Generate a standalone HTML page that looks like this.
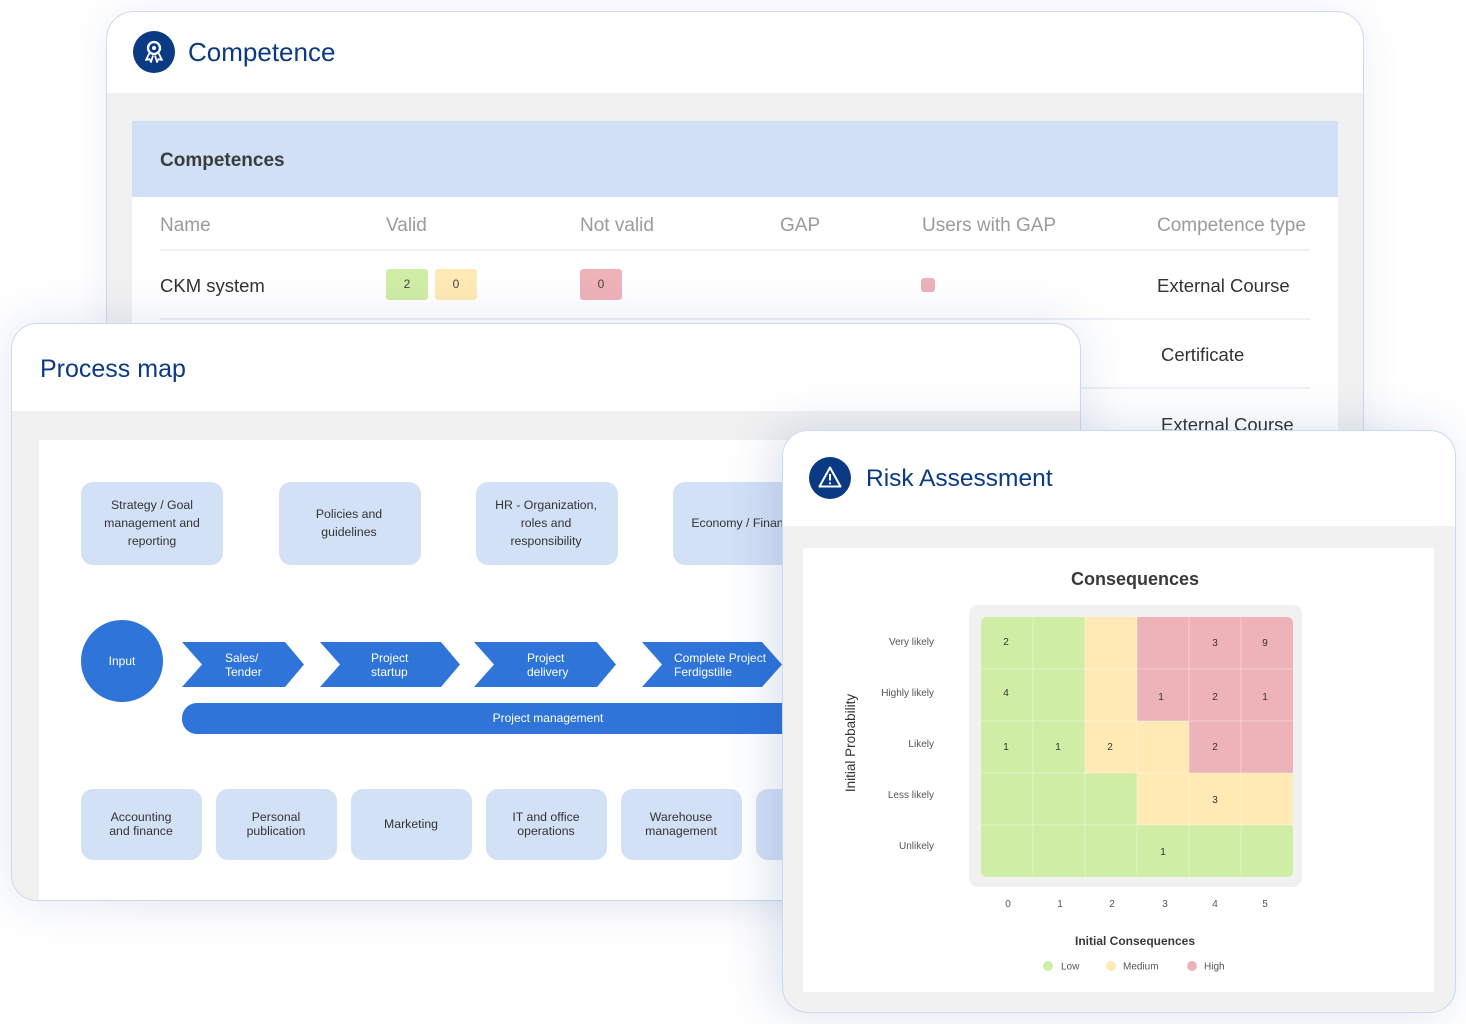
<!DOCTYPE html>
<html><head><meta charset="utf-8">
<style>
*{box-sizing:border-box}
body{margin:0;width:1466px;height:1024px;position:relative;overflow:hidden;background:#fff;font-family:"Liberation Sans",sans-serif}
.card{position:absolute;overflow:hidden;background:#f1f1f1}
.bord{position:absolute;border:1px solid #c9daf5;pointer-events:none}
.abs{position:absolute}
.t{position:absolute;white-space:nowrap}
.hd{color:#9b9b9b;font-size:19px;height:26px;line-height:26px}
.rw{color:#333;font-size:18.5px;height:26px;line-height:26px}
.badge{position:absolute;width:42px;height:31px;border-radius:3px;font-size:12px;color:#444;text-align:center;line-height:31px}
</style></head><body>

<!-- Competence card -->
<div class="card" style="left:106px;top:11px;width:1258px;height:880px;border-radius:28px;box-shadow:0 0 40px rgba(40,70,140,0.08)">
  <div class="abs" style="left:0;top:0;width:1258px;height:82px;background:#fff"></div>
  <svg class="abs" style="left:0;top:0" width="100" height="82" viewBox="106 11 100 82">
    <circle cx="154" cy="52" r="21" fill="#0b3a85"/>
    <circle cx="154" cy="48" r="6" fill="none" stroke="#fff" stroke-width="2.3"/>
    <circle cx="154" cy="48" r="2" fill="#fff"/>
    <path d="M149.5 53 L146 60 L149.5 59 L151 62 L153 55.5 M158.5 53 L162 60 L158.5 59 L157 62 L155 55.5" fill="none" stroke="#fff" stroke-width="1.8" stroke-linejoin="round"/>
  </svg>
  <div class="t" style="left:82px;top:25px;height:32px;line-height:32px;font-size:26px;color:#0b3a85">Competence</div>
  <div class="abs" style="left:26px;top:110px;width:1206px;height:780px;background:#fff"></div>
  <div class="abs" style="left:26px;top:110px;width:1206px;height:76px;background:#d1e0f6"></div>
  <div class="t" style="left:54px;top:136px;height:28px;line-height:28px;font-size:19px;font-weight:bold;color:#3c3c3c">Competences</div>
  <div class="t hd" style="left:54px;top:202px">Name</div>
  <div class="t hd" style="left:280px;top:202px">Valid</div>
  <div class="t hd" style="left:474px;top:202px">Not valid</div>
  <div class="t hd" style="left:674px;top:202px">GAP</div>
  <div class="t hd" style="left:816px;top:202px">Users with GAP</div>
  <div class="t hd" style="left:1051px;top:202px">Competence type</div>
  <div class="abs" style="left:54px;top:238px;width:1150px;height:2px;background:#eef1f6"></div>
  <div class="t rw" style="left:54px;top:262px">CKM system</div>
  <div class="badge" style="left:280px;top:258px;background:#d0eda6">2</div>
  <div class="badge" style="left:329px;top:258px;background:#ffeab5">0</div>
  <div class="badge" style="left:474px;top:258px;background:#eeb2b9">0</div>
  <div class="abs" style="left:815px;top:267px;width:14px;height:14px;border-radius:3px;background:#eeb2b9"></div>
  <div class="t rw" style="left:1051px;top:262px">External Course</div>
  <div class="abs" style="left:54px;top:307px;width:1150px;height:2px;background:#eef1f6"></div>
  <div class="t rw" style="left:1055px;top:331px">Certificate</div>
  <div class="abs" style="left:54px;top:376px;width:1150px;height:2px;background:#eef1f6"></div>
  <div class="t rw" style="left:1055px;top:401px">External Course</div>
  <div class="abs" style="left:54px;top:446px;width:1150px;height:2px;background:#eef1f6"></div>
</div>
<div class="bord" style="left:106px;top:11px;width:1258px;height:880px;border-radius:28px"></div>

<!-- Process map card -->
<div class="card" style="left:11px;top:323px;width:1070px;height:578px;border-radius:26px;box-shadow:0 0 50px rgba(40,70,140,0.13)">
  <div class="abs" style="left:0;top:0;width:1070px;height:88px;background:#fff"></div>
  <div class="t" style="left:29px;top:30px;height:32px;line-height:32px;font-size:25px;color:#0b3a85">Process map</div>
  <div class="abs" style="left:28px;top:117px;width:1020px;height:470px;background:#fff"></div>
  <svg class="abs" style="left:0;top:0" width="1070" height="578" viewBox="11 323 1070 578" font-family="Liberation Sans, sans-serif">
    <g fill="#d3e1f6">
      <rect x="81" y="482" width="142" height="83" rx="12"/>
      <rect x="279" y="482" width="142" height="83" rx="12"/>
      <rect x="476" y="482" width="142" height="83" rx="12"/>
      <rect x="673" y="482" width="142" height="83" rx="12"/>
      <rect x="81" y="789" width="121" height="71" rx="12"/>
      <rect x="216" y="789" width="121" height="71" rx="12"/>
      <rect x="351" y="789" width="121" height="71" rx="12"/>
      <rect x="486" y="789" width="121" height="71" rx="12"/>
      <rect x="621" y="789" width="121" height="71" rx="12"/>
      <rect x="756" y="789" width="121" height="71" rx="12"/>
    </g>
    <g font-size="12.3" fill="#333" text-anchor="middle">
      <text x="152" y="509">Strategy / Goal</text>
      <text x="152" y="527">management and</text>
      <text x="152" y="545">reporting</text>
      <text x="349" y="518">Policies and</text>
      <text x="349" y="536">guidelines</text>
      <text x="546" y="509">HR - Organization,</text>
      <text x="546" y="527">roles and</text>
      <text x="546" y="545">responsibility</text>
      <text x="744" y="527">Economy / Finance</text>
      <text x="141" y="821">Accounting</text>
      <text x="141" y="835">and finance</text>
      <text x="276" y="821">Personal</text>
      <text x="276" y="835">publication</text>
      <text x="411" y="828">Marketing</text>
      <text x="546" y="821">IT and office</text>
      <text x="546" y="835">operations</text>
      <text x="681" y="821">Warehouse</text>
      <text x="681" y="835">management</text>
    </g>
    <g fill="#2e74d9">
      <circle cx="122" cy="661" r="41"/>
      <polygon points="182,642 285,642 304,664.5 285,687 182,687 202,664.5"/>
      <polygon points="320,642 441,642 460,664.5 441,687 320,687 340,664.5"/>
      <polygon points="474,642 597,642 616,664.5 597,687 474,687 494,664.5"/>
      <polygon points="642,642 762,642 782,664.5 762,687 642,687 662,664.5"/>
      <rect x="182" y="703" width="732" height="31" rx="15"/>
    </g>
    <g font-size="12" fill="#fff">
      <text x="122" y="665" text-anchor="middle">Input</text>
      <text x="225" y="662">Sales/</text>
      <text x="225" y="676">Tender</text>
      <text x="371" y="662">Project</text>
      <text x="371" y="676">startup</text>
      <text x="527" y="662">Project</text>
      <text x="527" y="676">delivery</text>
      <text x="674" y="662">Complete Project</text>
      <text x="674" y="676">Ferdigstille</text>
      <text x="548" y="722" text-anchor="middle">Project management</text>
    </g>
  </svg>
</div>
<div class="bord" style="left:11px;top:323px;width:1070px;height:578px;border-radius:26px"></div>

<!-- Risk Assessment card -->
<div class="card" style="left:782px;top:430px;width:674px;height:583px;border-radius:26px;box-shadow:-10px 0 50px rgba(40,70,140,0.16)">
  <div class="abs" style="left:0;top:0;width:674px;height:96px;background:#fff"></div>
  <div class="t" style="left:84px;top:33px;height:32px;line-height:32px;font-size:24.5px;color:#0b3a85">Risk Assessment</div>
  <div class="abs" style="left:21px;top:118px;width:631px;height:444px;background:#fff"></div>
  <svg class="abs" style="left:0;top:0" width="674" height="583" viewBox="782 430 674 583" font-family="Liberation Sans, sans-serif">
    <defs><clipPath id="gc"><rect x="981" y="617" width="312" height="260" rx="6"/></clipPath></defs>
    <circle cx="830" cy="478" r="21" fill="#0b3a85"/>
    <path d="M830 467.5 L840.5 486.5 L819.5 486.5 Z" fill="none" stroke="#fff" stroke-width="2" stroke-linejoin="round"/>
    <line x1="830" y1="474" x2="830" y2="480.5" stroke="#fff" stroke-width="2"/>
    <circle cx="830" cy="483.3" r="1.1" fill="#fff"/>
    <text x="1135" y="585" text-anchor="middle" font-size="18" font-weight="bold" fill="#3a3a3a">Consequences</text>
    <rect x="969" y="605" width="333" height="282" rx="9" fill="#f1f1f1"/>
    <g clip-path="url(#gc)">
      <rect x="981" y="617" width="312" height="260" fill="#d0eda6"/>
      <rect x="1085" y="617" width="52" height="156" fill="#ffeab5"/>
      <rect x="1137" y="617" width="156" height="104" fill="#eeb2b9"/>
      <rect x="1137" y="721" width="52" height="52" fill="#ffeab5"/>
      <rect x="1189" y="721" width="104" height="52" fill="#eeb2b9"/>
      <rect x="1137" y="773" width="156" height="52" fill="#ffeab5"/>
      <g stroke="#fff" stroke-opacity="0.35" stroke-width="1">
        <line x1="1033" y1="617" x2="1033" y2="877"/><line x1="1085" y1="617" x2="1085" y2="877"/>
        <line x1="1137" y1="617" x2="1137" y2="877"/><line x1="1189" y1="617" x2="1189" y2="877"/>
        <line x1="1241" y1="617" x2="1241" y2="877"/>
        <line x1="981" y1="669" x2="1293" y2="669"/><line x1="981" y1="721" x2="1293" y2="721"/>
        <line x1="981" y1="773" x2="1293" y2="773"/><line x1="981" y1="825" x2="1293" y2="825"/>
      </g>
    </g>
    <g font-size="10" fill="#333" text-anchor="middle">
      <text x="1006" y="645">2</text><text x="1215" y="646">3</text><text x="1265" y="646">9</text>
      <text x="1006" y="696">4</text><text x="1161" y="700">1</text><text x="1215" y="700">2</text><text x="1265" y="700">1</text>
      <text x="1006" y="750">1</text><text x="1058" y="750">1</text><text x="1110" y="750">2</text><text x="1215" y="750">2</text>
      <text x="1215" y="803">3</text>
      <text x="1163" y="855">1</text>
    </g>
    <g font-size="10" fill="#555" text-anchor="end">
      <text x="934" y="645">Very likely</text>
      <text x="934" y="696">Highly likely</text>
      <text x="934" y="747">Likely</text>
      <text x="934" y="798">Less likely</text>
      <text x="934" y="849">Unlikely</text>
    </g>
    <g font-size="10" fill="#555" text-anchor="middle">
      <text x="1008" y="907">0</text><text x="1060" y="907">1</text><text x="1112" y="907">2</text>
      <text x="1165" y="907">3</text><text x="1215" y="907">4</text><text x="1265" y="907">5</text>
    </g>
    <text x="855" y="743" transform="rotate(-90 855 743)" text-anchor="middle" font-size="13.5" fill="#333">Initial Probability</text>
    <text x="1135" y="945" text-anchor="middle" font-size="12" font-weight="bold" fill="#3a3a3a">Initial Consequences</text>
    <circle cx="1048" cy="966" r="5" fill="#d0eda6"/>
    <circle cx="1111" cy="966" r="5" fill="#ffeab5"/>
    <circle cx="1192" cy="966" r="5" fill="#eeb2b9"/>
    <g font-size="10" fill="#555">
      <text x="1061" y="969.5">Low</text>
      <text x="1123" y="969.5">Medium</text>
      <text x="1204" y="969.5">High</text>
    </g>
  </svg>
</div>
<div class="bord" style="left:782px;top:430px;width:674px;height:583px;border-radius:26px"></div>

</body></html>
